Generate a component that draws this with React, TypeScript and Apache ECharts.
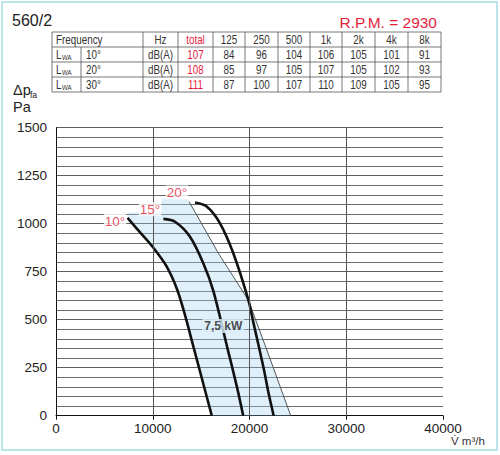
import React, { useEffect, useRef } from 'react';
import * as echarts from 'echarts';

// ---------- data ----------
const modelName = '560/2';
const rpmText = 'R.P.M. = 2930';
const bandHeaders = ['125', '250', '500', '1k', '2k', '4k', '8k'];
const rowAngles = ['10°', '20°', '30°'];
const totals = [107, 108, 111];
const bandLevels = [
  [84, 96, 104, 106, 105, 101, 91],
  [85, 97, 105, 107, 105, 102, 93],
  [87, 100, 107, 110, 109, 105, 95],
];

const curve10 = [[7400, 1030], [8600, 960], [9900, 885], [11400, 780], [12500, 660], [13300, 530], [14200, 360], [15100, 190], [16100, 0]];
const curve15 = [[11100, 1025], [12300, 1010], [13850, 932], [15225, 794], [16260, 650], [17680, 360], [18700, 150], [19350, 0]];
const curve20 = [[14370, 1110], [15575, 1089], [16950, 1002], [18325, 846], [19880, 603], [20420, 481], [21430, 255], [22000, 110], [22500, 0]];
const limitLine = [[13750, 1115], [16800, 845], [19900, 600], [22100, 300], [24260, 0]];
const shadeTop = [[7400, 1060], [10900, 1060], [10900, 1130], [13600, 1130]];
const angleLabels = [
  { name: '10°', value: [6100, 1014] },
  { name: '15°', value: [9716, 1076] },
  { name: '20°', value: [12506, 1163] },
];
const powerLabel = [{ name: '7,5 kW', value: [17290, 467] }];
const verticalLines = [10000, 20000, 30000];

const FONT = 'Liberation Sans, Arial, sans-serif';
const RED = '#e31e3c';

function buildTable(): any[] {
  const colEdges = [52, 81, 143, 178, 213, 245, 278, 310, 342, 375, 408, 441];
  const rowEdges = [32, 47, 62, 77, 92];
  const els: any[] = [];
  const ln = { stroke: '#555', lineWidth: 0.8 };
  els.push({ type: 'rect', shape: { x: colEdges[0], y: rowEdges[0], width: colEdges[colEdges.length - 1] - colEdges[0], height: rowEdges[4] - rowEdges[0] }, style: { fill: 'none', ...ln } });
  for (let r = 1; r < 4; r++) {
    els.push({ type: 'line', shape: { x1: colEdges[0], y1: rowEdges[r], x2: colEdges[colEdges.length - 1], y2: rowEdges[r] }, style: ln });
  }
  for (let c = 1; c < colEdges.length - 1; c++) {
    els.push({ type: 'line', shape: { x1: colEdges[c], y1: c === 1 ? rowEdges[1] : rowEdges[0], x2: colEdges[c], y2: rowEdges[4] }, style: ln });
  }
  const txt = (text: string, x: number, y: number, align: string, fill = '#333', size = 12) => ({
    type: 'text', x, y, scaleX: 0.82,
    style: { text, fill, fontSize: size, fontFamily: FONT, align, verticalAlign: 'middle' },
  });
  const mid = (c: number) => (colEdges[c] + colEdges[c + 1]) / 2;
  const hy = (rowEdges[0] + rowEdges[1]) / 2;
  els.push(txt('Frequency', 56, hy, 'left'));
  els.push(txt('Hz', mid(2), hy, 'center'));
  els.push(txt('total', mid(3), hy, 'center', RED));
  bandHeaders.forEach((h, i) => els.push(txt(h, mid(4 + i), hy, 'center')));
  rowAngles.forEach((a, r) => {
    const y = (rowEdges[r + 1] + rowEdges[r + 2]) / 2;
    els.push(txt('L', 56, y, 'left'));
    els.push(txt('WA', 62, y + 3, 'left', '#333', 7.5));
    els.push(txt(a, 86, y, 'left'));
    els.push(txt('dB(A)', mid(2), y, 'center'));
    els.push(txt(String(totals[r]), mid(3), y, 'center', RED));
    bandLevels[r].forEach((v, i) => els.push(txt(String(v), mid(4 + i), y, 'center')));
  });
  return els;
}

export default function App() {
  const ref = useRef<HTMLDivElement>(null);
  useEffect(() => {
    if (!ref.current) return;
    const chart = echarts.init(ref.current, null, { renderer: 'svg' });
    const shadePoly = [...shadeTop, ...limitLine, ...curve10.slice().reverse()];
    const curveStyle = { color: '#111', width: 2.6 };
    const option: any = {
      animation: false,
      backgroundColor: '#fff',
      grid: { left: 56, right: 57, top: 127.7, bottom: 39.3 },
      xAxis: {
        type: 'value', min: 0, max: 40000, interval: 10000,
        axisLine: { show: true, lineStyle: { color: '#111', width: 1 } },
        axisTick: { show: true, length: 4, lineStyle: { color: '#111' } },
        axisLabel: { fontSize: 13.5, color: '#222', margin: 6, fontFamily: FONT, formatter: (v: number) => String(v) },
        splitLine: { show: false },
      },
      yAxis: {
        type: 'value', min: 0, max: 1500, interval: 250,
        axisLine: { show: true, lineStyle: { color: '#111', width: 1 } },
        axisTick: { show: false },
        minorTick: { show: false, splitNumber: 5 },
        axisLabel: { fontSize: 13.5, color: '#222', margin: 9, fontFamily: FONT, formatter: (v: number) => String(v) },
        splitLine: { show: true, lineStyle: { color: '#333', width: 0.8 } },
        minorSplitLine: { show: true, lineStyle: { color: '#444', width: 0.8 } },
      },
      series: [
        {
          type: 'custom',
          z: 1,
          silent: true,
          data: [[0, 0]],
          renderItem: (_p: any, api: any) => ({
            type: 'polygon',
            shape: { points: shadePoly.map((pt) => api.coord(pt)) },
            style: { fill: 'rgba(160,212,242,0.34)' },
          }),
        },
        {
          type: 'line', z: 2, data: [], silent: true,
          markLine: {
            symbol: 'none', silent: true, animation: false,
            label: { show: false },
            lineStyle: { color: '#555', width: 1, type: 'solid' },
            data: verticalLines.map((v) => ({ xAxis: v })),
          },
        },
        { type: 'line', z: 3, data: limitLine, symbol: 'none', lineStyle: { color: '#444', width: 0.9 }, silent: true },
        { type: 'line', z: 4, data: curve10, symbol: 'none', smooth: 0.3, lineStyle: curveStyle, silent: true },
        { type: 'line', z: 4, data: curve15, symbol: 'none', smooth: 0.3, lineStyle: curveStyle, silent: true },
        { type: 'line', z: 4, data: curve20, symbol: 'none', smooth: 0.3, lineStyle: curveStyle, silent: true },
        {
          type: 'scatter', z: 6, data: angleLabels, symbolSize: 0, silent: true,
          label: {
            show: true, position: 'inside', formatter: '{b}', color: RED, fontSize: 13.5,
            fontFamily: FONT, backgroundColor: '#fff', padding: [0, 1],
          },
        },
        {
          type: 'scatter', z: 6, data: powerLabel, symbolSize: 0, silent: true,
          label: {
            show: true, position: 'inside', formatter: '{b}', color: '#222', fontSize: 12,
            fontWeight: 'bold', fontFamily: FONT, backgroundColor: '#dcf0fa', padding: [1, 2],
          },
        },
      ],
      graphic: [
        { type: 'rect', z: 100, shape: { x: 2, y: 2, width: 495, height: 448 }, style: { fill: 'none', stroke: '#a6dbe6', lineWidth: 1.5 } },
        { type: 'text', x: 12, y: 20, style: { text: modelName, fill: '#222', fontSize: 16, fontFamily: FONT, verticalAlign: 'middle' } },
        { type: 'text', x: 437, y: 22, style: { text: rpmText, fill: RED, fontSize: 15.5, fontFamily: FONT, align: 'right', verticalAlign: 'middle' } },
        ...buildTable(),
        { type: 'text', x: 13, y: 90, style: { text: 'Δp', fill: '#222', fontSize: 14.5, fontFamily: FONT, verticalAlign: 'middle' } },
        { type: 'text', x: 30, y: 94.5, style: { text: 'fa', fill: '#222', fontSize: 8.5, fontFamily: FONT, verticalAlign: 'middle' } },
        { type: 'text', x: 13, y: 106.5, style: { text: 'Pa', fill: '#222', fontSize: 14.5, fontFamily: FONT, verticalAlign: 'middle' } },
        { type: 'text', x: 451, y: 441, style: { text: 'V\u0307 m³/h', fill: '#333', fontSize: 11.5, fontFamily: FONT, verticalAlign: 'middle' } },
      ],
    };
    chart.setOption(option);
    return () => chart.dispose();
  }, []);
  return <div ref={ref} style={{ position: 'absolute', left: 0, top: 0, width: 500, height: 455 }} />;
}
